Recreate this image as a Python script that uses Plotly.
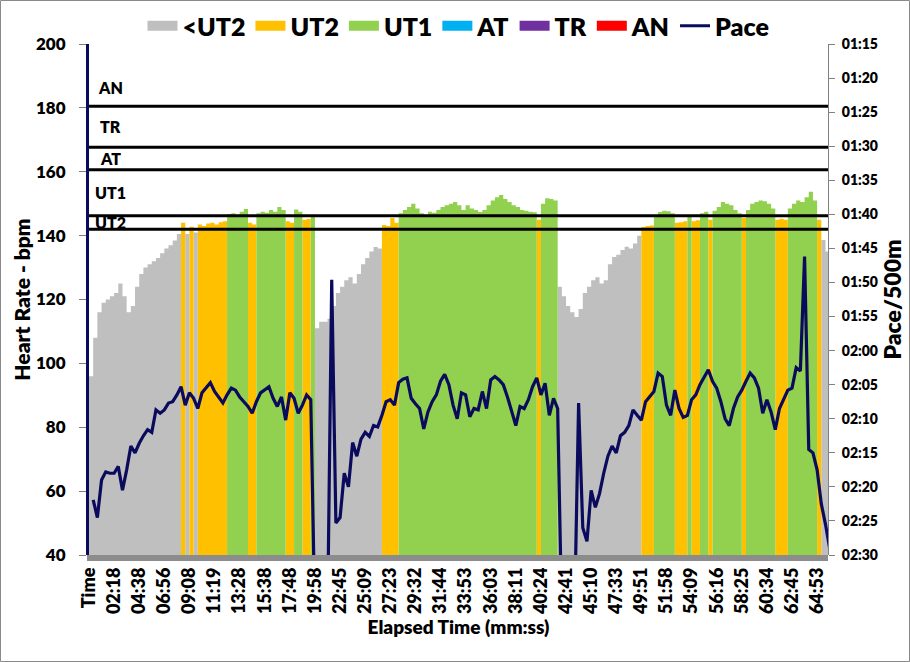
import plotly.graph_objects as go

# ---------------- data ----------------
time_labels = ["Time", "02:18", "04:38", "06:56", "09:08", "11:19", "13:28", "15:38",
               "17:48", "19:58", "22:45", "25:09", "27:23", "29:32", "31:44", "33:53",
               "36:03", "38:11", "40:24", "42:41", "45:10", "47:33", "49:51", "51:58",
               "54:09", "56:16", "58:25", "60:34", "62:45", "64:53"]

heart_rate = [
    96, 108, 116, 119, 120, 121, 122, 125, 121, 116,
    118, 124, 128, 130, 131, 132, 133, 134.5, 136, 137,
    138.5, 140.5, 144, 140.5, 142.8, 141, 143.5, 143, 143.8, 144,
    143.5, 144.2, 144.5, 146.8, 147, 146.5, 147.5, 148.3, 144, 143.5,
    147, 147.5, 147.2, 148, 147.5, 149, 148, 144.5, 144, 148.2,
    147.5, 145, 145.2, 146.5, 111, 113, 113, 114, 118, 122,
    124, 126, 127, 125, 128, 131, 133, 135, 136.4, 136,
    143.3, 143, 145.5, 144, 147, 148, 149, 150, 148.5, 147,
    146.5, 147.5, 147.2, 148, 149, 149.5, 150, 150.5, 149.5, 148,
    149.5, 148.5, 148, 147.4, 148, 149.5, 151, 152, 152.7, 151.5,
    150.5, 149.5, 149, 148, 147.8, 147.5, 147.3, 145, 150, 151.7,
    151.5, 151, 124, 121, 118, 116, 114.5, 117, 122, 124,
    126, 127, 125, 126, 131, 133.3, 134, 135.5, 136.5, 136,
    137.5, 140, 142.7, 143, 143.2, 146.5, 147.4, 147.8, 147.6, 147,
    144, 144.2, 144.5, 146.3, 144.5, 144.8, 147, 147.5, 145, 147.8,
    149, 150.5, 150, 149.5, 148, 147, 145.5, 148, 150, 150.5,
    151, 150.8, 150, 148.5, 145, 145.3, 145, 148.5, 150, 151,
    150.5, 152, 153.7, 151, 145, 138.6, 135, 132,
]

# pace in seconds per 500 m (values beyond 150 s fall below the axis)
pace_sec = [
    None, 141.9, 144.5, 139, 137.8, 138, 138, 137, 140.5, 137.5,
    134, 135, 133.6, 132.5, 131.6, 132, 128.7, 129.2, 128.7, 127.7,
    127.5, 126.5, 125.3, 128, 126.2, 127, 128.5, 126.2, 125.5, 124.7,
    126, 126.8, 127.7, 126.5, 125.5, 125.8, 126.8, 127.5, 128.2, 129.2,
    127.5, 126.2, 125.8, 125.3, 127, 128.2, 126.8, 130.2, 126.2, 127,
    129.2, 128, 126.5, 127.2, 160, 160, 160, 160, 109.6, 145.3,
    144.5, 138, 140, 133.5, 135.5, 133, 132, 132.6, 131, 131.2,
    129.5, 127.5, 127.2, 128, 124.7, 124.2, 124, 127, 127.8, 128.5,
    131.5, 129, 127.5, 126.5, 124.5, 123.5, 125, 128, 130, 126.2,
    126.5, 129.7, 128.5, 128.7, 126, 128.5, 124.3, 123.8, 124.3, 125,
    126.8, 129, 131, 128.2, 128.5, 127.2, 125.3, 124, 126.5, 124.8,
    129.5, 127, 128.5, 160, 160, 160, 160, 127.7, 146, 148,
    140.5, 143, 141, 138, 135.5, 134, 135, 132.5, 132, 131,
    128.7, 129.5, 130.2, 127.5, 126.8, 126, 123.3, 123.8, 128, 129.5,
    125.8, 128.5, 129.8, 129.5, 127.2, 126.5, 125, 124, 122.8, 124.5,
    125.5, 127.5, 130, 131, 128.5, 126.8, 125.8, 124.5, 123.3, 124,
    125.5, 129.2, 127.2, 129, 131.6, 128.5, 127, 125.8, 125.5, 122.5,
    123, 106.2, 134.5, 135, 137.5, 142.5, 145.5, 149,
]

zone_names = ["<UT2", "UT2", "UT1", "AT", "TR", "AN"]
zone_colors = ["#BFBFBF", "#FFC000", "#92D050", "#00B0F0", "#7030A0", "#FF0000"]
zone_thresholds = [142, 146.2, 160.6, 167.7, 180.5]   # lower bounds of UT2, UT1, AT, TR, AN

pace_ticks = [75, 80, 85, 90, 95, 100, 105, 110, 115, 120, 125, 130, 135, 140, 145, 150]
pace_tick_labels = ["01:15", "01:20", "01:25", "01:30", "01:35", "01:40", "01:45", "01:50",
                    "01:55", "02:00", "02:05", "02:10", "02:15", "02:20", "02:25", "02:30"]

samples_per_label = 6

# ---------------- figure ----------------
NAVY = "#0B0B5E"
FONT = "Lato"
W8 = 800
x = list(range(len(heart_rate)))
bounds = [-1e9] + zone_thresholds + [1e9]


def zone_of(h):
    for k in range(len(zone_names)):
        if bounds[k] <= h < bounds[k + 1]:
            return k
    return 0


zones = [zone_of(h) for h in heart_rate]

fig = go.Figure()
for k, (name, col) in enumerate(zip(zone_names, zone_colors)):
    yk = [h if z == k else 0 for h, z in zip(heart_rate, zones)]
    fig.add_trace(go.Scatter(
        x=x, y=yk, mode="lines", line=dict(width=0, shape="hv", color=col),
        fill="tozeroy", fillcolor=col, showlegend=False, hoverinfo="skip"))

# legend entries
for name, col in zip(zone_names, zone_colors):
    fig.add_trace(go.Scatter(x=[None], y=[None], mode="lines", name=name,
                             line=dict(color=col, width=14)))

fig.add_trace(go.Scatter(x=x, y=pace_sec, yaxis="y2", mode="lines", name="Pace",
                         line=dict(color=NAVY, width=3.2), hoverinfo="skip"))

PLOT_W, PLOT_H = 910 - 89 - 82, 662 - 44 - 107

shapes = []
for t in zone_thresholds:
    shapes.append(dict(type="line", xref="paper", x0=0, x1=1, yref="y", y0=t, y1=t,
                       line=dict(color="black", width=3), layer="above"))
# floor band
shapes.append(dict(type="rect", xref="paper", x0=-2 / PLOT_W, x1=1, yref="paper",
                   y0=-6 / PLOT_H, y1=0, fillcolor="#8C8C8C", line=dict(width=0)))
# chart border
shapes.append(dict(type="rect", xref="paper", yref="paper",
                   x0=(0.5 - 89) / PLOT_W, x1=(909.5 - 89) / PLOT_W,
                   y0=(555 - 661.5) / PLOT_H, y1=(555 - 0.5) / PLOT_H,
                   line=dict(color="#8A8A8A", width=1), fillcolor="rgba(0,0,0,0)"))

annotations = []
label_levels = []
for i in range(len(zone_thresholds)):
    lo = zone_thresholds[i]
    hi = zone_thresholds[i + 1] if i + 1 < len(zone_thresholds) else lo + 12
    label_levels.append((lo + hi) / 2)
for name, lvl in zip(zone_names[1:], label_levels):
    annotations.append(dict(text=name, xref="paper", x=21.5 / PLOT_W, xanchor="center",
                            yref="y", y=lvl, yanchor="middle", showarrow=False,
                            font=dict(family=FONT, size=16, color="black", weight=W8)))

fig.update_layout(
    width=910, height=662,
    margin=dict(l=89, r=82, t=44, b=107, pad=0, autoexpand=False),
    paper_bgcolor="white", plot_bgcolor="white",
    font=dict(family=FONT, color="black"),
    showlegend=True,
    legend=dict(orientation="h", x=0.5, xanchor="center",
                yref="container", y=1 - 26 / 662, yanchor="middle",
                font=dict(family=FONT, size=25, color="black", weight=W8),
                bgcolor="rgba(0,0,0,0)", itemsizing="trace", traceorder="normal"),
    shapes=shapes,
    annotations=annotations,
    xaxis=dict(range=[0, 176.6],
               tickvals=[i * samples_per_label for i in range(len(time_labels))],
               ticktext=time_labels, tickangle=-90,
               tickfont=dict(family=FONT, size=18, weight=W8),
               showgrid=False, zeroline=False, showline=False, ticks="",
               ticklabelstandoff=8,
               title=dict(text="Elapsed Time (mm:ss)", standoff=6,
                          font=dict(family=FONT, size=19, weight=W8))),
    yaxis=dict(range=[40, 200], dtick=20,
               tickfont=dict(family=FONT, size=17, weight=W8),
               ticks="outside", ticklen=7, tickcolor="#808080", tickwidth=1,
               ticklabelstandoff=10,
               showline=True, linecolor=NAVY, linewidth=3,
               showgrid=False, zeroline=False,
               title=dict(text="Heart Rate - bpm", standoff=0,
                          font=dict(family=FONT, size=21, weight=W8))),
    yaxis2=dict(overlaying="y", side="right", range=[150, 75],
                tickvals=pace_ticks, ticktext=pace_tick_labels,
                tickfont=dict(family=FONT, size=14, weight=W8),
                ticks="outside", ticklen=6, tickcolor="#808080", tickwidth=1,
                ticklabelstandoff=4,
                showline=True, linecolor="#808080", linewidth=1,
                showgrid=False, zeroline=False,
                title=dict(text="Pace/500m", standoff=6,
                           font=dict(family=FONT, size=23, weight=W8))),
)

fig.write_html("out.html")
